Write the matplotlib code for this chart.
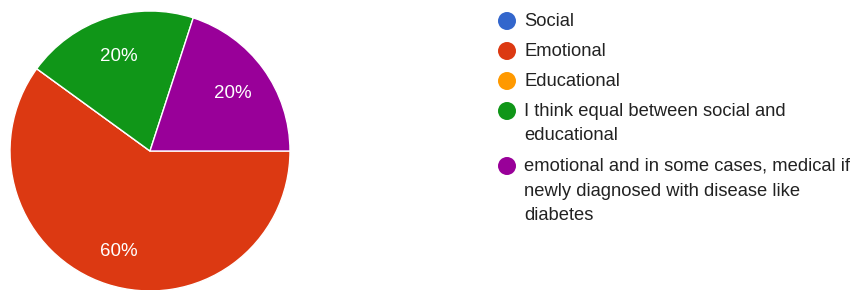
import textwrap
import matplotlib.pyplot as plt

plt.rcParams['font.family'] = ['Liberation Sans', 'DejaVu Sans']

labels = ["Social", "Emotional", "Educational",
          "I think equal between social and educational",
          "emotional and in some cases, medical if newly diagnosed with disease like diabetes"]
values = [0, 60, 0, 20, 20]
colors = ["#3366cc", "#dc3912", "#ff9900", "#109618", "#990099"]

W, H = 861, 290
fig = plt.figure(figsize=(W / 100, H / 100), dpi=100)

# pie: center (150,151) px, radius 140 px
cx, cy, r = 150, 151, 140
ax = fig.add_axes([(cx - r) / W, (H - cy - r) / H, 2 * r / W, 2 * r / H])


def pct(p):
    return "" if p < 0.5 else "%d%%" % round(p)


wedges, texts, autotexts = ax.pie(values, colors=colors, startangle=0, counterclock=False,
                                  autopct=pct, pctdistance=0.73,
                                  wedgeprops=dict(edgecolor="white", linewidth=1),
                                  textprops=dict(color="white", fontsize=13.5))
for t in autotexts:
    x, y = t.get_position()
    t.set_position((x, y - 3 / r))
ax.set_xlim(-1, 1)
ax.set_ylim(-1, 1)
ax.set_aspect("equal")
ax.axis("off")

# legend drawn by hand so the marker sits on the first line
lax = fig.add_axes([0, 0, 1, 1])
lax.set_xlim(0, W)
lax.set_ylim(H, 0)
lax.axis("off")
y = 21
for lab, col in zip(labels, colors):
    lines = textwrap.wrap(lab, 39)
    lax.scatter([507], [y], s=168, color=col, edgecolors="none")
    for i, line in enumerate(lines):
        lax.text(524, y + i * 25, line, va="center", ha="left", fontsize=13.2, color="#222222")
    y += 30 + (len(lines) - 1) * 25

fig.savefig("out.png", dpi=100)
